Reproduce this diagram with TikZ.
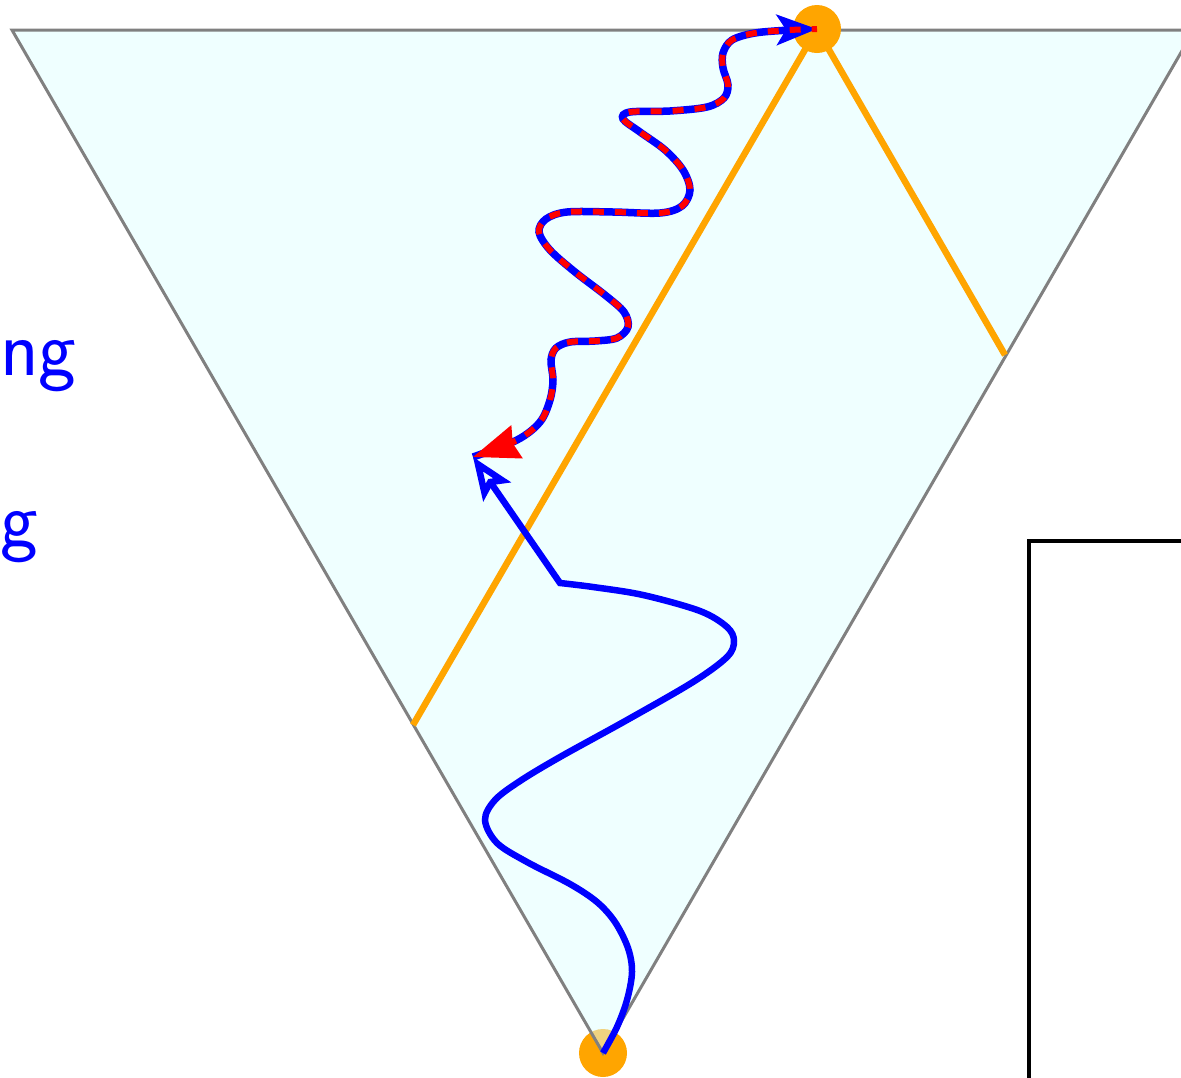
\documentclass[tikz,border=0pt]{standalone}
\usetikzlibrary{arrows.meta}
\definecolor{htmlorange}{RGB}{255,165,0}
\definecolor{lightcyanc}{RGB}{224,255,255}
\tikzset{
  dot/.style={circle, fill=htmlorange, inner sep=0pt, minimum size=48pt},
  cone/.style={fill=lightcyanc, fill opacity=0.5, draw=gray, line width=3pt, line join=miter},
  lightray/.style={draw=htmlorange, line width=6.5pt},
  worldline/.style={draw=blue, line width=6.5pt, line join=miter},
  wavyblue/.style={draw=blue, line width=7.5pt},
  wavyred/.style={draw=red, line width=6pt, dash pattern=on 11pt off 11pt},
  frame/.style={draw=black, line width=3.2pt},
  lab/.style={text=blue, font=\sffamily\fontsize{80}{90}\selectfont, inner sep=0pt, anchor=base west}
}
\begin{document}
\begin{tikzpicture}[x=1pt,y=-1pt]
\useasboundingbox (0,0) rectangle (1181,1077);
\clip (0,0) rectangle (1181,1077);
% bottom event
\node[dot] (B) at (603,1053) {};
% cone
\coordinate (TL) at (12,30);
\coordinate (TR) at (1194,30);
\path[cone] (TL) -- (TR) -- (B.center) -- cycle;
% light rays from top event
\coordinate (L1) at (413,725);
\coordinate (R1) at (1005,355);
\coordinate (Tc) at (817,29);
\draw[lightray] (L1) -- (Tc) -- (R1);
\node[dot] (T) at (817,29) {};
% arrival point
\coordinate (A) at (473,457);
\coordinate (C) at (560,583);
% world line from bottom event
\draw[worldline, -{Stealth[open, length=42pt, width=33pt, inset=8pt]}]
  plot[smooth, tension=0.55] coordinates {(B.center) (617,1027) (627,1000) (632,972) (628,948) (615,922) (597,902) (570,884) (527,862) (497,843) (485,820) (495,800) (520,781) (560,757) (627,720) (693,682) (727,657) (734,641) (727,627) (700,611) (643,595) (593,587) (C)}
  -- (A);
% wavy signal
\draw[wavyblue, -{Stealth[open, length=40pt, width=30pt, inset=9pt]}]
  plot[smooth, tension=0.55] coordinates {(A) (517,440) (540,422) (550,400) (553,380) (551,360) (556,348) (570,342) (595,341) (617,338) (628,327) (624,312) (605,295) (575,272) (550,250) (539,232) (546,219) (567,212) (613,212) (660,213) (682,206) (690,190) (683,170) (665,150) (640,132) (623,119) (630,112) (670,111) (707,107) (724,98) (728,85) (723,68) (723,53) (732,40) (755,33) (790,30) (T.center)};
\draw[wavyred, {Stealth[length=46pt, width=34pt, inset=4pt]}-]
  plot[smooth, tension=0.55] coordinates {(A) (517,440) (540,422) (550,400) (553,380) (551,360) (556,348) (570,342) (595,341) (617,338) (628,327) (624,312) (605,295) (575,272) (550,250) (539,232) (546,219) (567,212) (613,212) (660,213) (682,206) (690,190) (683,170) (665,150) (640,132) (623,119) (630,112) (670,111) (707,107) (724,98) (728,85) (723,68) (723,53) (732,40) (755,33) (790,30) (T.center)};
% frame
\coordinate (F1) at (1029,1100);
\coordinate (F2) at (1029,541);
\coordinate (F3) at (1200,541);
\draw[frame] (F1) -- (F2) -- (F3);
% labels
\node[lab] (t1) at (0,375) {ng};
\node[lab] (t2) at (0,546) {g};
\end{tikzpicture}
\end{document}
